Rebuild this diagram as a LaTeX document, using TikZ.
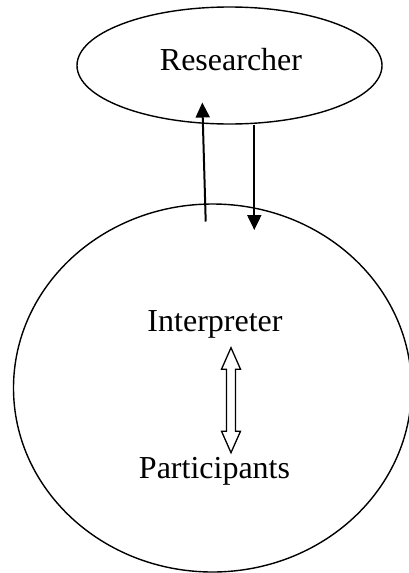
\documentclass[tikz,border=0pt]{standalone}
\usepackage{fontspec}
\setmainfont{Liberation Serif}
\usetikzlibrary{shapes.geometric,arrows.meta}
\begin{document}
\begin{tikzpicture}[x=1pt,y=-1pt,
  oval/.style={ellipse,draw=black,line width=1.4pt,inner sep=0pt},
  lbl/.style={anchor=base,inner sep=0pt,font=\fontsize{32}{38}\selectfont},
  flow/.style={line width=2pt,-{Triangle[length=15pt,width=14pt]}},
  hollow/.style={draw=black,line width=1.3pt,fill=white,line join=miter}]
  \useasboundingbox (0,0) rectangle (409,573);

  % the two regions
  \node[oval,minimum width=305pt,minimum height=117pt] (res) at (229.5,65.5) {};
  \node[oval,minimum width=398pt,minimum height=368pt] (ctx) at (212.5,388) {};

  % labels
  \node[lbl] (rlab) at (231,70) {Researcher};
  \node[lbl] (ilab) at (215,331.7) {Interpreter};
  \node[lbl] (plab) at (214.5,478.3) {Participants};

  % exchange between researcher and interpreter
  \coordinate (upfrom) at (205.7,221.5);
  \coordinate (upto) at (202.3,102.5);
  \coordinate (downto) at (254.3,230);
  \draw[flow] (upfrom) -- (upto);
  \draw[flow] (res.south -| downto) -- (downto);

  % hollow two-way arrow between interpreter and participants
  \coordinate (dt) at (231,347.7);
  \coordinate (db) at (231,452.7);
  \draw[hollow] (dt) -- ++(9.5,21.5) -- ++(-5,0) -- (235.5,431.2) -- ++(5,0)
    -- (db) -- (221.5,431.2) -- ++(5,0) -- (226.5,369.2) -- ++(-5,0) -- cycle;
\end{tikzpicture}
\end{document}
